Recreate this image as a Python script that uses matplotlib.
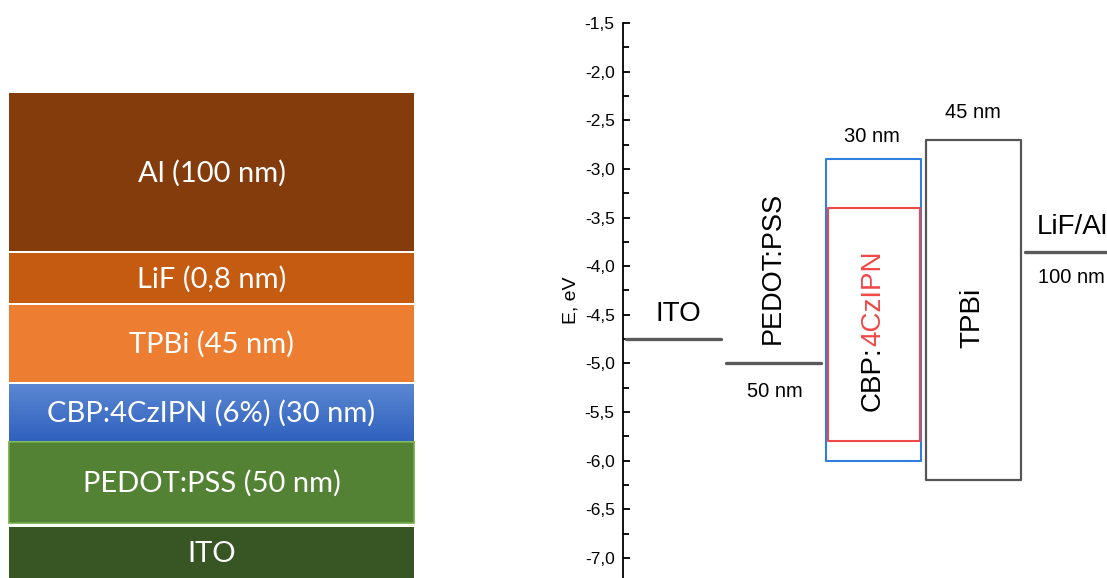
import numpy as np
import matplotlib
matplotlib.use("Agg")
import matplotlib.pyplot as plt
from matplotlib.patches import Rectangle
from matplotlib.ticker import MultipleLocator, FuncFormatter

# ---------------- data ----------------
stack_labels = ["Al (100 nm)", "LiF (0,8 nm)", "TPBi (45 nm)",
                "CBP:4CzIPN (6%) (30 nm)", "PEDOT:PSS (50 nm)", "ITO"]
stack_colors = ["#843C0C", "#C55A11", "#ED7D31", None, "#548235", "#375623"]

ito_level = -4.75
pedot_level = -5.0
cbp_lumo, cbp_homo = -2.9, -6.0
dopant_lumo, dopant_homo = -3.4, -5.8
tpbi_lumo, tpbi_homo = -2.7, -6.2
lifal_level = -3.85

thickness_labels = ["50 nm", "30 nm", "45 nm", "100 nm"]
y_ticks = [-1.5, -2.0, -2.5, -3.0, -3.5, -4.0, -4.5, -5.0, -5.5, -6.0, -6.5, -7.0]

# ---------------- layout ----------------
W, H = 1107, 578
fig = plt.figure(figsize=(W / 100, H / 100), dpi=100)

# left panel (pixel coordinates)
ax0 = fig.add_axes([0, 0, 1, 1])
ax0.set_xlim(0, W)
ax0.set_ylim(H, 0)
ax0.axis("off")
tops = [93, 253, 305, 384, 442, 527]
bots = [251, 303, 382, 441, 523, 580]
x0, x1 = 9, 414
for lab, col, t, b in zip(stack_labels, stack_colors, tops, bots):
    if col is None:
        grad = np.linspace(0, 1, 100)[:, None]
        top_c = np.array([0x5B, 0x87, 0xD2]) / 255
        bot_c = np.array([0x2F, 0x61, 0xBE]) / 255
        img = top_c[None, None, :] * (1 - grad[..., None]) + bot_c[None, None, :] * grad[..., None]
        img = np.repeat(img, 2, axis=1)
        ax0.imshow(img, extent=(x0, x1, b, t), aspect="auto", zorder=1)
    else:
        ec = "#70AD47" if lab.startswith("PEDOT") else "none"
        ax0.add_patch(Rectangle((x0, t), x1 - x0, b - t, facecolor=col,
                                edgecolor=ec, linewidth=1.2, zorder=1))
    ax0.text((x0 + x1) / 2, (t + min(b, 578)) / 2 + 1, lab, color="white",
             fontsize=21, family="Lato", ha="center", va="center", zorder=2)

# right panel: energy diagram
ax = fig.add_axes([623 / W, 0, (W - 623) / W, 555 / H])
ax.patch.set_alpha(0)
ax.set_xlim(0, W - 623)
ax.set_ylim(-1.5 - 555 / 97.27, -1.5)
for s in ["top", "right", "bottom"]:
    ax.spines[s].set_visible(False)
ax.spines["left"].set_linewidth(1.3)
ax.set_xticks([])
ax.set_yticks(y_ticks)
ax.yaxis.set_minor_locator(MultipleLocator(0.25))
ax.yaxis.set_major_formatter(FuncFormatter(lambda v, p: f"{v:.1f}".replace(".", ",")))
ax.tick_params(axis="y", which="major", direction="in", length=5, width=1.3,
               labelsize=12.5, pad=6)
ax.tick_params(axis="y", which="minor", direction="in", length=4, width=1.3)
for lbl in ax.get_yticklabels():
    lbl.set_family("Liberation Sans")
ax.set_ylabel("E, eV", fontsize=14, family="Liberation Sans")
ax.yaxis.set_label_coords(-0.09, 0.50)

slot = 100
start = 2.5
width = 95
gray = "#5A5A5A"
F = "Liberation Sans"

def sx(i):
    return start + i * slot

# ITO
ax.plot([sx(0), sx(0) + width], [ito_level, ito_level], color=gray, lw=2.4,
        solid_capstyle="round")
# PEDOT
ax.plot([sx(1), sx(1) + width], [pedot_level, pedot_level], color=gray, lw=2.4,
        solid_capstyle="round")
# CBP host
ax.add_patch(Rectangle((sx(2), cbp_homo), width, cbp_lumo - cbp_homo, fill=False,
                       edgecolor="#2F7FE0", lw=1.5, joinstyle="round"))
# dopant
ax.add_patch(Rectangle((sx(2) + 2, dopant_homo), width - 3, dopant_lumo - dopant_homo,
                       fill=False, edgecolor="#F04848", lw=1.5, joinstyle="round"))
# TPBi
ax.add_patch(Rectangle((sx(3), tpbi_homo), width, tpbi_lumo - tpbi_homo, fill=False,
                       edgecolor="#555555", lw=1.6, joinstyle="round"))
# LiF/Al
ax.plot([sx(4) - 1, sx(4) + width], [lifal_level, lifal_level], color=gray, lw=2.4,
        solid_capstyle="round", clip_on=False)

# labels
ax.text(55, -4.49, "ITO", fontsize=20, family=F, ha="center", va="center")
ax.text(150, -4.02, "PEDOT:PSS", fontsize=19.5, family=F, rotation=90,
        ha="center", va="center")
ax.text(152, -5.29, thickness_labels[0], fontsize=14.5, family=F, ha="center", va="center")
ax.text(249, -2.67, thickness_labels[1], fontsize=14.5, family=F, ha="center", va="center")
ax.text(350, -2.425, thickness_labels[2], fontsize=14.5, family=F, ha="center", va="center")
ax.text(415, -4.12, thickness_labels[3], fontsize=14.5, family=F, ha="left", va="center",
        clip_on=False)
ax.text(414, -3.6, "LiF/Al", fontsize=20, family=F, ha="left", va="center")
ax.text(250, -4.82, "CBP:", fontsize=20, family=F, rotation=90, rotation_mode="anchor",
        ha="right", va="center", color="black")
ax.text(250, -4.82, "4CzIPN", fontsize=20, family=F, rotation=90, rotation_mode="anchor",
        ha="left", va="center", color="#F04848")
ax.text(349, -4.53, "TPBi", fontsize=20, family=F, rotation=90,
        ha="center", va="center")

fig.savefig("out.png", dpi=100)
